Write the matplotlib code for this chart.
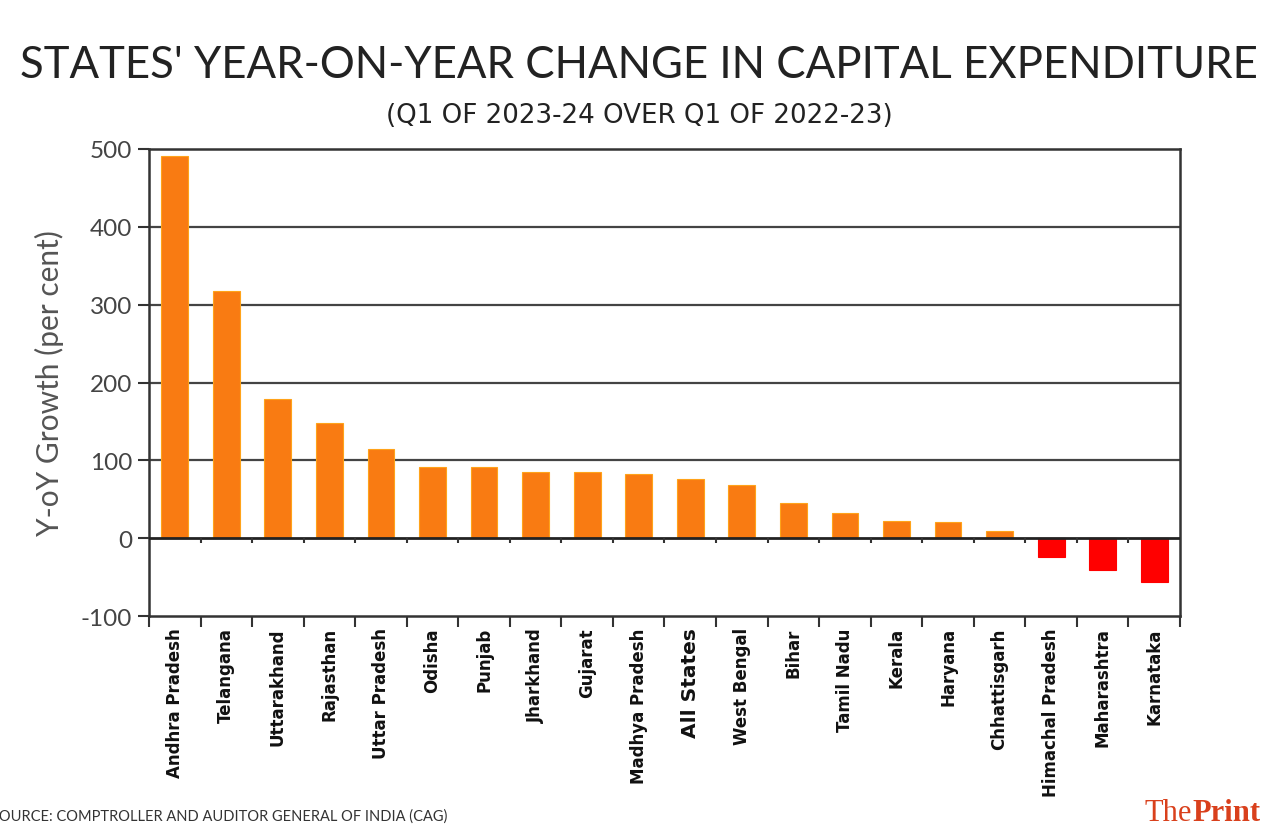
import matplotlib.pyplot as plt
import numpy as np

# Data
states = ["Andhra Pradesh", "Telangana", "Uttarakhand", "Rajasthan", "Uttar Pradesh",
          "Odisha", "Punjab", "Jharkhand", "Gujarat", "Madhya Pradesh", "All States",
          "West Bengal", "Bihar", "Tamil Nadu", "Kerala", "Haryana", "Chhattisgarh",
          "Himachal Pradesh", "Maharashtra", "Karnataka"]
growth = [491, 317, 179, 148, 114, 92, 91, 85, 85, 82, 76, 68, 45, 32, 22, 21, 9, -24, -41, -56]
y_ticks = [-100, 0, 100, 200, 300, 400, 500]

fig = plt.figure(figsize=(12.78, 8.37), dpi=100)
ax = fig.add_axes([0.1166, 0.2628, 0.8067, 0.558])

x = np.arange(len(states))
colors = ["#F97B12" if v >= 0 else "#FF0000" for v in growth]
edges = ["#FFA31A" if v >= 0 else "#FF0000" for v in growth]
ax.bar(x, growth, width=0.52, color=colors, edgecolor=edges, linewidth=0.8, zorder=3)

ax.set_xlim(-0.5, len(states) - 0.5)
ax.set_ylim(-100, 500)

# grid lines
for g in [100, 200, 300, 400]:
    ax.axhline(g, color="#444444", lw=1.6, zorder=1)
ax.axhline(0, color="#222222", lw=2, zorder=4)

# ticks at zero line between bars
bounds = np.arange(0.5, len(states) - 0.5, 1)
ax.vlines(bounds, -6, 0, color="#333333", lw=1.5, zorder=4)

for s in ax.spines.values():
    s.set_color("#333333")
    s.set_linewidth(1.8)

ax.set_yticks(y_ticks)
ax.set_yticklabels(["-100", "0", "100", "200", "300", "400", "500"])
ax.tick_params(axis="y", direction="out", length=8, width=1.5, color="#333333",
               labelsize=17.5, labelcolor="#444444", pad=4)
for lab in ax.get_yticklabels():
    lab.set_family("Lato")
ax.set_xticks(x)
ax.set_xticklabels(states, rotation=90, family="DejaVu Sans", fontweight="bold",
                   fontsize=12, color="#111111")
ax.tick_params(axis="x", which="major", length=0, pad=8)
ax.set_xticks(np.arange(-0.5, len(states), 1), minor=True)
ax.tick_params(axis="x", which="minor", direction="out", length=8, width=1.5, color="#333333")
ax.get_xticklabels()[states.index("All States")].set_fontsize(14.5)

ax.set_ylabel("Y-oY Growth (per cent)", fontsize=21.5, color="#555555", family="Lato",
              labelpad=12)

fig.text(0.5, 0.922, "STATES' YEAR-ON-YEAR CHANGE IN CAPITAL EXPENDITURE",
         ha="center", va="center", fontsize=31.5, family="Lato", color="#222222")
fig.text(0.5, 0.862, "(Q1 OF 2023-24 OVER Q1 OF 2022-23)", ha="center", va="center",
         fontsize=18.8, family=["Liberation Sans Narrow", "DejaVu Sans"], color="#222222")

fig.text(-0.007, 0.024, "SOURCE: COMPTROLLER AND AUDITOR GENERAL OF INDIA (CAG)",
         ha="left", va="center", fontsize=10.5, family="Lato", color="#333333")
fig.text(0.933, 0.028, "The", ha="right", va="center", fontsize=22,
         family="Liberation Serif", color="#D9401C")
fig.text(0.933, 0.028, "Print", ha="left", va="center", fontsize=22, fontweight="bold",
         family="Liberation Serif", color="#D9401C")

fig.savefig("out.png", dpi=100, facecolor="white")
